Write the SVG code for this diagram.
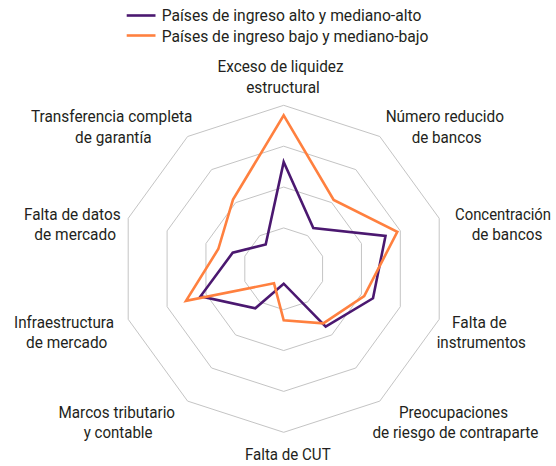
<svg xmlns="http://www.w3.org/2000/svg" width="556" height="466" viewBox="0 0 556 466">
<style>
text{font-family:"Liberation Sans Narrow","Roboto",sans-serif;font-size:16px;fill:#231f20}
.m{text-anchor:middle}
.grid{fill:none;stroke:#c4c4c4;stroke-width:1}
.s1{fill:none;stroke:#4b1870;stroke-width:2.6;stroke-linejoin:miter}
.s2{fill:none;stroke:#ff803f;stroke-width:2.6;stroke-linejoin:miter}
</style>
<rect width="556" height="466" fill="#ffffff"/>
<g id="legend">
<line x1="126.7" y1="15.5" x2="155.5" y2="15.5" stroke="#4b1870" stroke-width="2.6"/>
<line x1="126.7" y1="35.5" x2="155.5" y2="35.5" stroke="#ff803f" stroke-width="2.6"/>
<text x="161.7" y="21.3" textLength="259.7" lengthAdjust="spacingAndGlyphs">Países de ingreso alto y mediano-alto</text>
<text x="161.7" y="41.5" textLength="266.8" lengthAdjust="spacingAndGlyphs">Países de ingreso bajo y mediano-bajo</text>
</g>
<g id="grid">
<polygon class="grid" points="283.7,105.3 379.8,136.5 439.2,218.3 439.2,319.3 379.8,401.1 283.7,432.3 187.6,401.1 128.2,319.3 128.2,218.3 187.6,136.5"/>
<polygon class="grid" points="283.7,146.2 355.8,169.6 400.3,230.9 400.3,306.7 355.8,368.0 283.7,391.4 211.6,368.0 167.1,306.7 167.1,230.9 211.6,169.6"/>
<polygon class="grid" points="283.7,187.05 331.75,202.66 361.45,243.54 361.45,294.06 331.75,334.94 283.7,350.55 235.65,334.94 205.95,294.06 205.95,243.54 235.65,202.66"/>
<polygon class="grid" points="283.7,227.93 307.73,235.73 322.58,256.17 322.58,281.43 307.73,301.87 283.7,309.68 259.67,301.87 244.82,281.43 244.82,256.17 259.67,235.73"/>
</g>
<g id="series">
<polygon id="alto" class="s1" points="283.7,162 313.3,228 385.5,236 373,298.3 325.7,326.7 283.7,283.7 255.3,308.3 200.5,296.3 232.7,252.7 265.7,244.5"/>
<polygon id="bajo" class="s2" points="283.7,115.3 333.7,200 397.3,231.9 364.2,296 323.3,323.3 283.7,320.3 274,283.3 186,300.8 218.3,249 233,199.6"/>
</g>
<g id="labels">
<g id="ax0"><text class="m" x="280.5" y="72" textLength="126" lengthAdjust="spacingAndGlyphs">Exceso de liquidez</text><text class="m" x="283" y="92.5" textLength="73.6" lengthAdjust="spacingAndGlyphs">estructural</text></g>
<g id="ax1"><text class="m" x="444.8" y="122" textLength="118.3" lengthAdjust="spacingAndGlyphs">Número reducido</text><text class="m" x="446.7" y="142.5" textLength="70" lengthAdjust="spacingAndGlyphs">de bancos</text></g>
<g id="ax2"><text transform="translate(455,220) scale(0.93,1)" x="0" y="0" textLength="103.2" lengthAdjust="spacingAndGlyphs">Concentración</text><text class="m" x="507" y="240" textLength="70.6" lengthAdjust="spacingAndGlyphs">de bancos</text></g>
<g id="ax3"><text class="m" x="479.3" y="327.5" textLength="54.7" lengthAdjust="spacingAndGlyphs">Falta de</text><text class="m" x="481.3" y="348.3" textLength="89.3" lengthAdjust="spacingAndGlyphs">instrumentos</text></g>
<g id="ax4"><text class="m" x="453.5" y="417.5" textLength="109" lengthAdjust="spacingAndGlyphs">Preocupaciones</text><text class="m" x="455.4" y="438" textLength="166" lengthAdjust="spacingAndGlyphs">de riesgo de contraparte</text></g>
<g id="ax5"><text class="m" x="287.8" y="460" textLength="85.7" lengthAdjust="spacingAndGlyphs">Falta de CUT</text></g>
<g id="ax6"><text class="m" x="116.8" y="417.5" textLength="116.5" lengthAdjust="spacingAndGlyphs">Marcos tributario</text><text class="m" x="118.1" y="438" textLength="68.8" lengthAdjust="spacingAndGlyphs">y contable</text></g>
<g id="ax7"><text class="m" x="64" y="327.7" textLength="100" lengthAdjust="spacingAndGlyphs">Infraestructura</text><text class="m" x="66.7" y="348.3" textLength="81.3" lengthAdjust="spacingAndGlyphs">de mercado</text></g>
<g id="ax8"><text class="m" x="72.3" y="220" textLength="96.7" lengthAdjust="spacingAndGlyphs">Falta de datos</text><text class="m" x="75.2" y="240" textLength="81.7" lengthAdjust="spacingAndGlyphs">de mercado</text></g>
<g id="ax9"><text class="m" x="111.7" y="122.3" textLength="161.5" lengthAdjust="spacingAndGlyphs">Transferencia completa</text><text class="m" x="113.3" y="142.5" textLength="76.5" lengthAdjust="spacingAndGlyphs">de garantía</text></g>
</g>
</svg>
